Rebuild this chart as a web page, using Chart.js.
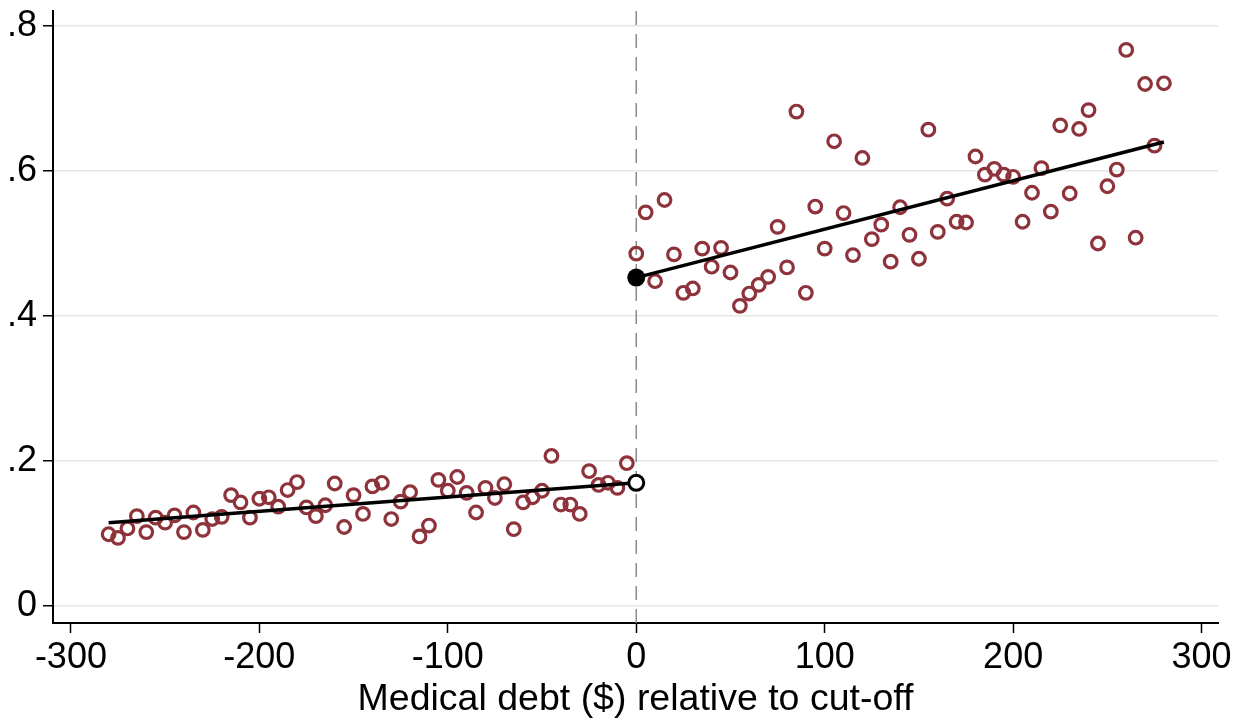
<!DOCTYPE html>
<html lang="en-US">
<head>
  <meta charset="utf-8">
  <title>RD plot | Chart.js</title>
  <script src="https://cdn.jsdelivr.net/npm/chart.js@4/dist/chart.umd.min.js"></script>
  <style>
    html, body { margin: 0; padding: 0; background: #fff; }
    .wrapper { width: 1246px; height: 725px; }
  </style>
</head>
<body>
  <div class="wrapper">
    <canvas id="chart-0" width="1246" height="725"></canvas>
  </div>

  <script>
    // binned means, left of cut-off
    let leftX = [-280, -275, -270, -265, -260, -255, -250, -245, -240, -235, -230, -225, -220, -215,
      -210, -205, -200, -195, -190, -185, -180, -175, -170, -165, -160, -155, -150, -145,
      -140, -135, -130, -125, -120, -115, -110, -105, -100, -95, -90, -85, -80, -75,
      -70, -65, -60, -55, -50, -45, -40, -35, -30, -25, -20, -15, -10, -5];
    let leftY = [0.099, 0.094, 0.107, 0.124, 0.102, 0.122, 0.115, 0.125, 0.102, 0.129, 0.105, 0.120, 0.123, 0.153,
      0.143, 0.122, 0.148, 0.150, 0.137, 0.160, 0.171, 0.136, 0.124, 0.139, 0.169, 0.109, 0.153, 0.127,
      0.165, 0.170, 0.120, 0.144, 0.157, 0.096, 0.111, 0.174, 0.159, 0.178, 0.156, 0.129, 0.163, 0.149,
      0.168, 0.106, 0.143, 0.150, 0.159, 0.207, 0.140, 0.140, 0.127, 0.186, 0.167, 0.170, 0.163, 0.197];

    // binned means, right of cut-off
    let rightX = [0, 5, 10, 15, 20, 25, 30, 35, 40, 45, 50, 55, 60, 65, 70, 75, 80, 85, 90, 95,
      100, 105, 110, 115, 120, 125, 130, 135, 140, 145, 150, 155, 160, 165, 170, 175, 180, 185, 190, 195,
      200, 205, 210, 215, 220, 225, 230, 235, 240, 245, 250, 255, 260, 265, 270, 275, 280];
    let rightY = [0.486, 0.543, 0.448, 0.560, 0.485, 0.432, 0.438, 0.493, 0.468, 0.494, 0.460, 0.414, 0.431, 0.443, 0.454, 0.523, 0.467, 0.682, 0.432, 0.551,
      0.493, 0.641, 0.542, 0.484, 0.618, 0.506, 0.526, 0.475, 0.550, 0.512, 0.479, 0.657, 0.516, 0.562, 0.530, 0.529, 0.620, 0.595, 0.603, 0.595,
      0.592, 0.530, 0.570, 0.604, 0.544, 0.663, 0.569, 0.658, 0.684, 0.500, 0.579, 0.602, 0.767, 0.508, 0.720, 0.635, 0.721];

    // linear fits on each side
    let leftFitX = [-280, 0];
    let leftFitY = [0.115, 0.170];
    let rightFitX = [0, 280];
    let rightFitY = [0.453, 0.640];

    let xTicks = [-300, -200, -100, 0, 100, 200, 300];
    let yTicks = [0, 0.2, 0.4, 0.6, 0.8];
    let cutoff = 0;

    let dotColor = '#8e333b';
    let fontFamily = "'Liberation Sans', Arial, sans-serif";
    let tickFont = {family: fontFamily, size: 36};
    let titleFont = {family: fontFamily, size: 37.5};

    function pairs(xs, ys) {
      return xs.map((x, i) => ({x: x, y: ys[i]}));
    }

    let cutoffLine = {
      id: 'cutoffLine',
      beforeDatasetsDraw(chart) {
        let ctx = chart.ctx;
        let area = chart.chartArea;
        let px = chart.scales.x.getPixelForValue(cutoff);
        ctx.save();
        ctx.strokeStyle = '#8a8a8a';
        ctx.lineWidth = 1.5;
        ctx.setLineDash([14, 9]);
        ctx.beginPath();
        ctx.moveTo(px, area.bottom);
        ctx.lineTo(px, area.top);
        ctx.stroke();
        ctx.restore();
      }
    };

    let chart = new Chart('chart-0', {
      type: 'scatter',
      data: {
        datasets: [
          {
            label: 'intercept right',
            data: [{x: rightFitX[0], y: rightFitY[0]}],
            pointRadius: 9,
            pointBackgroundColor: '#000',
            pointBorderColor: '#000',
            pointBorderWidth: 0,
            order: 0
          },
          {
            label: 'intercept left',
            data: [{x: leftFitX[1], y: leftFitY[1]}],
            pointRadius: 7.5,
            pointBackgroundColor: '#fff',
            pointBorderColor: '#000',
            pointBorderWidth: 3,
            order: 1
          },
          {
            label: 'fit right',
            data: pairs(rightFitX, rightFitY),
            showLine: true,
            borderColor: '#000',
            borderWidth: 3.5,
            pointRadius: 0,
            order: 2
          },
          {
            label: 'fit left',
            data: pairs(leftFitX, leftFitY),
            showLine: true,
            borderColor: '#000',
            borderWidth: 3.5,
            pointRadius: 0,
            order: 3
          },
          {
            label: 'right',
            data: pairs(rightX, rightY),
            pointRadius: 6.3,
            pointBorderWidth: 3.2,
            pointBorderColor: dotColor,
            pointBackgroundColor: 'rgba(0,0,0,0)',
            order: 4
          },
          {
            label: 'left',
            data: pairs(leftX, leftY),
            pointRadius: 6.3,
            pointBorderWidth: 3.2,
            pointBorderColor: dotColor,
            pointBackgroundColor: 'rgba(0,0,0,0)',
            order: 5
          }
        ]
      },
      options: {
        responsive: false,
        animation: false,
        devicePixelRatio: 1,
        layout: {
          padding: {top: 11, right: 28, left: 0, bottom: 0}
        },
        plugins: {
          legend: {display: false},
          tooltip: {enabled: false}
        },
        scales: {
          x: {
            type: 'linear',
            min: -309.5,
            max: 308.7,
            afterBuildTicks: function(scale) {
              scale.ticks = xTicks.map(v => ({value: v}));
            },
            afterFit: function(scale) {
              scale.height = 102;
              scale.paddingLeft = 0;
              scale.paddingRight = 0;
            },
            grid: {
              drawOnChartArea: false,
              drawTicks: true,
              tickLength: 10,
              tickColor: '#000',
              tickWidth: 1.5
            },
            border: {display: true, color: '#000', width: 2},
            ticks: {
              color: '#000',
              font: tickFont,
              padding: 3,
              maxRotation: 0,
              autoSkip: false
            },
            title: {
              display: true,
              text: 'Medical debt ($) relative to cut-off',
              color: '#000',
              font: titleFont,
              padding: {top: 0, bottom: 3}
            }
          },
          y: {
            type: 'linear',
            min: -0.0234,
            max: 0.8207,
            afterBuildTicks: function(scale) {
              scale.ticks = yTicks.map(v => ({value: v}));
            },
            afterFit: function(scale) {
              scale.width = 53;
              scale.paddingTop = 0;
              scale.paddingBottom = 0;
            },
            grid: {
              color: '#e6e6e6',
              lineWidth: 1.5,
              drawTicks: true,
              tickLength: 10,
              tickColor: '#000',
              tickWidth: 1.5
            },
            border: {display: true, color: '#000', width: 2},
            ticks: {
              color: '#000',
              font: tickFont,
              padding: 6,
              autoSkip: false,
              callback: function(v) {
                return v === 0 ? '0' : v.toFixed(1).replace(/^0/, '');
              }
            }
          }
        }
      },
      plugins: [cutoffLine]
    });
  </script>
</body>
</html>
